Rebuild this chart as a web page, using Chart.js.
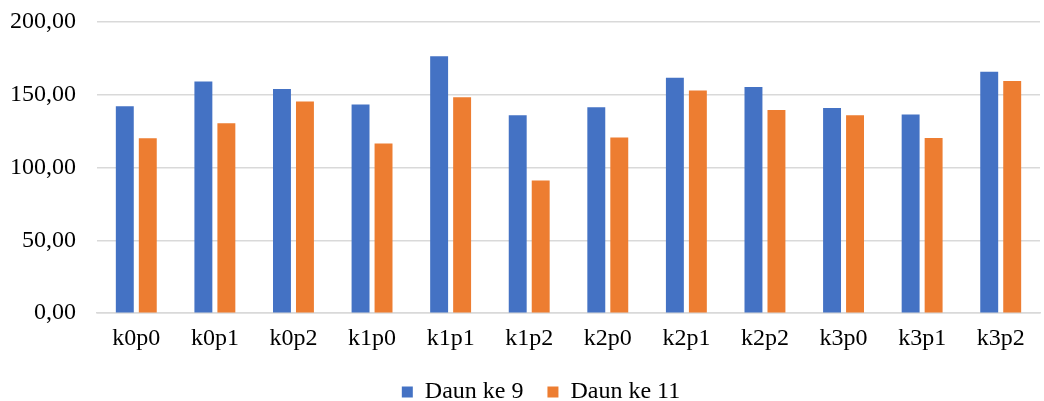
<!DOCTYPE html>
<html>
<head>
<meta charset="utf-8">
<script src="https://cdn.jsdelivr.net/npm/chart.js@4"></script>
<style>
  html, body { margin: 0; padding: 0; background: #fff; }
  #wrap { width: 1044px; height: 401px; }
</style>
</head>
<body>
<div id="wrap"><canvas id="chart" width="1044" height="401"></canvas></div>
<script>
const categories = ['k0p0', 'k0p1', 'k0p2', 'k1p0', 'k1p1', 'k1p2', 'k2p0', 'k2p1', 'k2p2', 'k3p0', 'k3p1', 'k3p2'];
const daunKe9 = [142.2, 159.2, 153.9, 143.3, 176.5, 136.0, 141.5, 161.7, 155.3, 141.0, 136.4, 165.9];
const daunKe11 = [120.1, 130.4, 145.4, 116.6, 148.4, 91.2, 120.7, 153.0, 139.6, 136.0, 120.3, 159.5];
const yTicks = [0, 50, 100, 150, 200];

const serif = "'Liberation Serif', 'Times New Roman', serif";

function fmt(v) {
    return v.toFixed(2).replace('.', ',');
}

// legend sits a bit right of centre in the original
const shiftLegend = {
    id: 'shiftLegend',
    afterLayout(chart) {
        const lg = chart.legend;
        if (!lg) return;
        lg.left += 18;
        lg.right += 18;
    }
};

const ctx = document.getElementById('chart').getContext('2d');
new Chart(ctx, {
    type: 'bar',
    data: {
        labels: categories,
        datasets: [
            { label: 'Daun ke 9', data: daunKe9, backgroundColor: '#4472C4' },
            { label: 'Daun ke 11', data: daunKe11, backgroundColor: '#ED7D31' }
        ]
    },
    options: {
        responsive: false,
        devicePixelRatio: 1,
        animation: false,
        categoryPercentage: 0.585,
        barPercentage: 0.78,
        layout: { padding: { top: 22, right: 4, left: 6, bottom: -13 } },
        plugins: {
            tooltip: { enabled: false },
            legend: {
                position: 'bottom',
                labels: {
                    font: { family: serif, size: 24 },
                    color: '#000',
                    boxWidth: 11,
                    boxHeight: 11,
                    padding: 24
                }
            }
        },
        scales: {
            x: {
                grid: { display: false },
                border: { display: true, color: '#d9d9d9', width: 1.5 },
                ticks: { font: { family: serif, size: 24 }, color: '#000', padding: 3 }
            },
            y: {
                min: 0,
                max: 200,
                afterBuildTicks: axis => { axis.ticks = yTicks.map(v => ({ value: v })); },
                grid: { color: '#d9d9d9', lineWidth: 1.5, drawTicks: true, tickLength: 17, tickColor: 'rgba(0,0,0,0)' },
                border: { display: false },
                ticks: {
                    font: { family: serif, size: 24 },
                    color: '#000',
                    padding: 4,
                    callback: v => fmt(v)
                }
            }
        }
    },
    plugins: [shiftLegend]
});
</script>
</body>
</html>
